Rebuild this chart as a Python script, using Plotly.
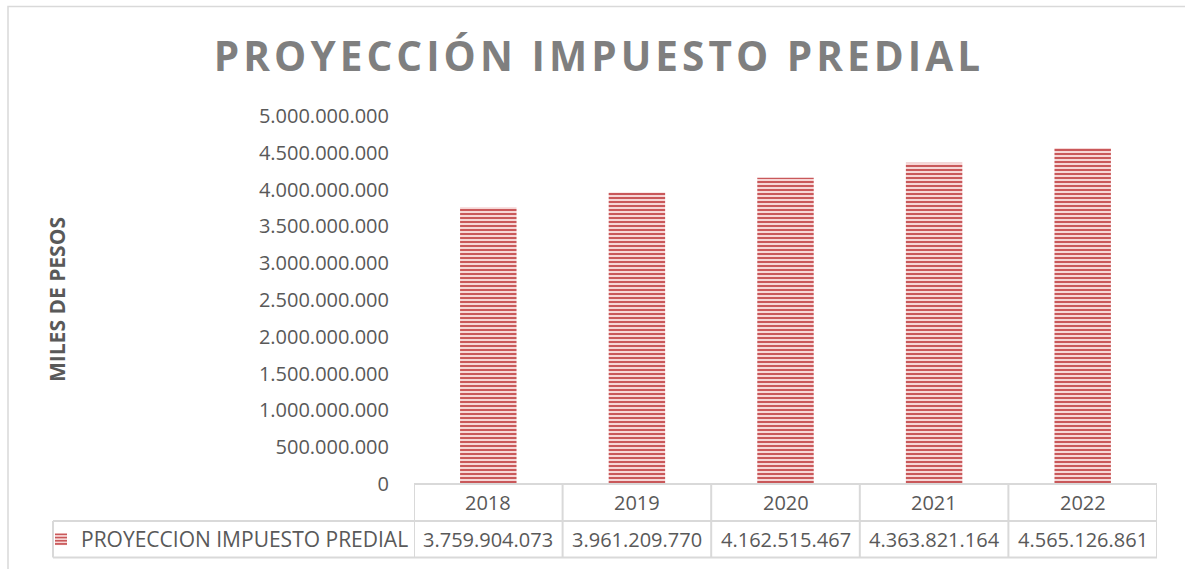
import plotly.graph_objects as go

# ---- data ----
years = ["2018", "2019", "2020", "2021", "2022"]
values = [3759904073, 3961209770, 4162515467, 4363821164, 4565126861]
series_name = "PROYECCION IMPUESTO PREDIAL"
title_text = "PROYECCIÓN IMPUESTO PREDIAL"
y_title = "MILES DE PESOS"
y_ticks = [0, 500000000, 1000000000, 1500000000, 2000000000, 2500000000,
           3000000000, 3500000000, 4000000000, 4500000000, 5000000000]

W, H = 1185, 569
L, R, T, B = 414, W - 1157, 116, H - 484
PW, PH = W - L - R, H - T - B

def px(x):  # pixel x -> paper x
    return (x - L) / PW

def py(y):  # pixel y -> paper y
    return (H - B - y) / PH

def fmt(v):
    return f"{v:,}".replace(",", ".")

GRAY = "#595959"
BORDER = "#d9d9d9"
FONT = "Open Sans"

fig = go.Figure()
fig.add_trace(go.Bar(
    x=years, y=values, name=series_name,
    marker=dict(
        color="#C0504D",
        line=dict(width=0),
        pattern=dict(shape="-", size=4, solidity=0.5, fillmode="replace",
                     fgcolor="#C9585A", bgcolor="#F6D6D6"),
    ),
    width=0.38,
))

shapes = []
line = dict(color=BORDER, width=2)
# outer chart border
shapes.append(dict(type="rect", xref="paper", yref="paper",
                   x0=px(8), x1=px(W + 10), y0=py(H + 10), y1=py(6.5),
                   line=dict(color=BORDER, width=1.5), layer="below"))
# data table horizontal lines
shapes.append(dict(type="line", xref="paper", yref="paper", x0=px(414), x1=px(1157),
                   y0=py(484), y1=py(484), line=line))
shapes.append(dict(type="line", xref="paper", yref="paper", x0=px(53), x1=px(1157),
                   y0=py(521), y1=py(521), line=line))
shapes.append(dict(type="line", xref="paper", yref="paper", x0=px(53), x1=px(1157),
                   y0=py(557.5), y1=py(557.5), line=line))
# vertical lines
shapes.append(dict(type="line", xref="paper", yref="paper", x0=px(53), x1=px(53),
                   y0=py(521), y1=py(557.5), line=line))
for i in range(len(years) + 1):
    shapes.append(dict(type="line", xref="x", yref="paper", x0=i - 0.5, x1=i - 0.5,
                       y0=py(484), y1=py(557.5), line=line))

annotations = []
for i, (yr, v) in enumerate(zip(years, values)):
    annotations.append(dict(x=i, xref="x", y=py(502.5), yref="paper", text=yr,
                            showarrow=False, yanchor="middle",
                            font=dict(family=FONT, size=20, color=GRAY)))
    annotations.append(dict(x=i, xref="x", y=py(539.5), yref="paper", text=fmt(v),
                            showarrow=False, yanchor="middle",
                            font=dict(family=FONT, size=20, color=GRAY)))
annotations.append(dict(x=px(57), xref="paper", y=py(300), yref="paper", text=f"<b>{y_title}</b>",
                        textangle=-90, showarrow=False, xanchor="center", yanchor="middle",
                        font=dict(family=FONT, size=21, color=GRAY)))

spaced_title = "\u200a".join(title_text)

fig.update_layout(
    width=W, height=H,
    margin=dict(l=L, r=R, t=T, b=B, autoexpand=False),
    paper_bgcolor="white", plot_bgcolor="white",
    separators=",.",
    title=dict(text=f"<b>{spaced_title}</b>", xref="container", yref="container",
               x=597 / W, y=1 - 57 / H, xanchor="center", yanchor="middle",
               font=dict(family=FONT, size=40.5, color="#7F7F7F")),
    xaxis=dict(type="category", range=[-0.5, len(years) - 0.5], showticklabels=False,
               showline=False, showgrid=False, zeroline=False, ticks=""),
    yaxis=dict(range=[0, 5000000000], tickvals=y_ticks, tickformat=",d",
               showgrid=False, zeroline=False, showline=False, ticks="",
               ticklabelstandoff=24,
               tickfont=dict(family=FONT, size=20, color=GRAY)),
    showlegend=True,
    legend=dict(x=px(41), xanchor="left", y=py(539.5), yanchor="middle",
                font=dict(family=FONT, size=21, color=GRAY),
                bgcolor="rgba(0,0,0,0)", borderwidth=0),
    shapes=shapes,
    annotations=annotations,
    bargap=0.62,
)

fig.write_html("out.html", config={"displayModeBar": False},
               post_script="document.body.style.margin='0';document.body.style.padding='0';")
